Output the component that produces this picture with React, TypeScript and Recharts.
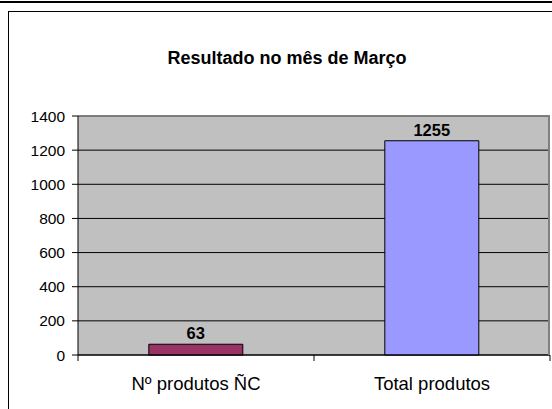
import { Bar, BarChart, CartesianGrid, Cell, LabelList, ReferenceLine, XAxis, YAxis } from 'recharts';

const categories = ['Nº produtos ÑC', 'Total produtos'];
const values = [63, 1255];
const yTicks = [0, 200, 400, 600, 800, 1000, 1200, 1400];

const barColors = ['#993366', '#9999FF'];
const font = '"Liberation Sans", Arial, sans-serif';

const data = categories.map((name, i) => ({ name, value: values[i] }));

const CHART_W = 552;
const CHART_H = 409;
const MARGIN = { top: 116, right: 2, bottom: 0, left: 0 };
const Y_AXIS_W = 78;
const X_AXIS_H = 54;
const BAND = (CHART_W - MARGIN.left - MARGIN.right - Y_AXIS_W) / categories.length;

function CategoryTick(props: any) {
  const { x, y, payload, index } = props;
  const axisY = y - 8;
  const half = BAND / 2;
  return (
    <g>
      {index === 0 && (
        <line x1={x - half} x2={x - half} y1={axisY} y2={axisY + 6} stroke="#000" />
      )}
      <line x1={x + half} x2={x + half} y1={axisY} y2={axisY + 6} stroke="#000" />
      <text x={x} y={y + 26.5} textAnchor="middle" fill="#000" fontSize={18.5} fontFamily={font}>
        {payload.value}
      </text>
    </g>
  );
}

export default function App() {
  return (
    <div style={{ position: 'absolute', left: 0, top: 0, width: CHART_W, height: CHART_H, overflow: 'hidden', background: '#fff' }}>
      <div style={{ position: 'absolute', left: 0, top: 1, width: CHART_W, height: 2, background: '#000' }} />
      <div
        style={{
          position: 'absolute',
          left: 8,
          top: 11,
          width: CHART_W,
          height: CHART_H,
          borderLeft: '1px solid #000',
          borderTop: '1px solid #000',
        }}
      />
      <div
        style={{
          position: 'absolute',
          left: 8,
          top: 47,
          width: 558,
          textAlign: 'center',
          fontFamily: font,
          fontWeight: 'bold',
          fontSize: 18,
          lineHeight: '22px',
          color: '#000',
        }}
      >
        Resultado no mês de Março
      </div>
      <BarChart
        width={CHART_W}
        height={CHART_H}
        data={data}
        margin={MARGIN}
        barCategoryGap="30%"
        style={{ position: 'absolute', left: 0, top: 0 }}
      >
        <CartesianGrid vertical={false} stroke="#000" fill="#C0C0C0" fillOpacity={1} />
        <ReferenceLine y={1400} stroke="#808080" strokeWidth={1.5} />
        <XAxis
          dataKey="name"
          height={X_AXIS_H}
          axisLine={{ stroke: '#000' }}
          tickLine={false}
          tickSize={6}
          tickMargin={2}
          tick={<CategoryTick />}
          interval={0}
        />
        <YAxis
          width={Y_AXIS_W}
          domain={[0, 1400]}
          ticks={yTicks}
          interval={0}
          axisLine={{ stroke: '#000' }}
          tickLine={{ stroke: '#000' }}
          tickSize={6}
          tickMargin={7}
          tick={{ fill: '#000', fontSize: 15.5, fontFamily: font }}
        />
        <Bar dataKey="value" stroke="#000" strokeWidth={1} isAnimationActive={false}>
          {data.map((d, i) => (
            <Cell key={d.name} fill={barColors[i]} />
          ))}
          <LabelList
            dataKey="value"
            position="top"
            offset={5}
            fill="#000"
            fontSize={16.5}
            fontWeight="bold"
            fontFamily={font}
          />
        </Bar>
      </BarChart>
      <div
        style={{
          position: 'absolute',
          left: CHART_W - MARGIN.right - 2,
          top: MARGIN.top,
          width: 2,
          height: CHART_H - MARGIN.top - MARGIN.bottom - X_AXIS_H,
          background: '#808080',
        }}
      />
    </div>
  );
}
